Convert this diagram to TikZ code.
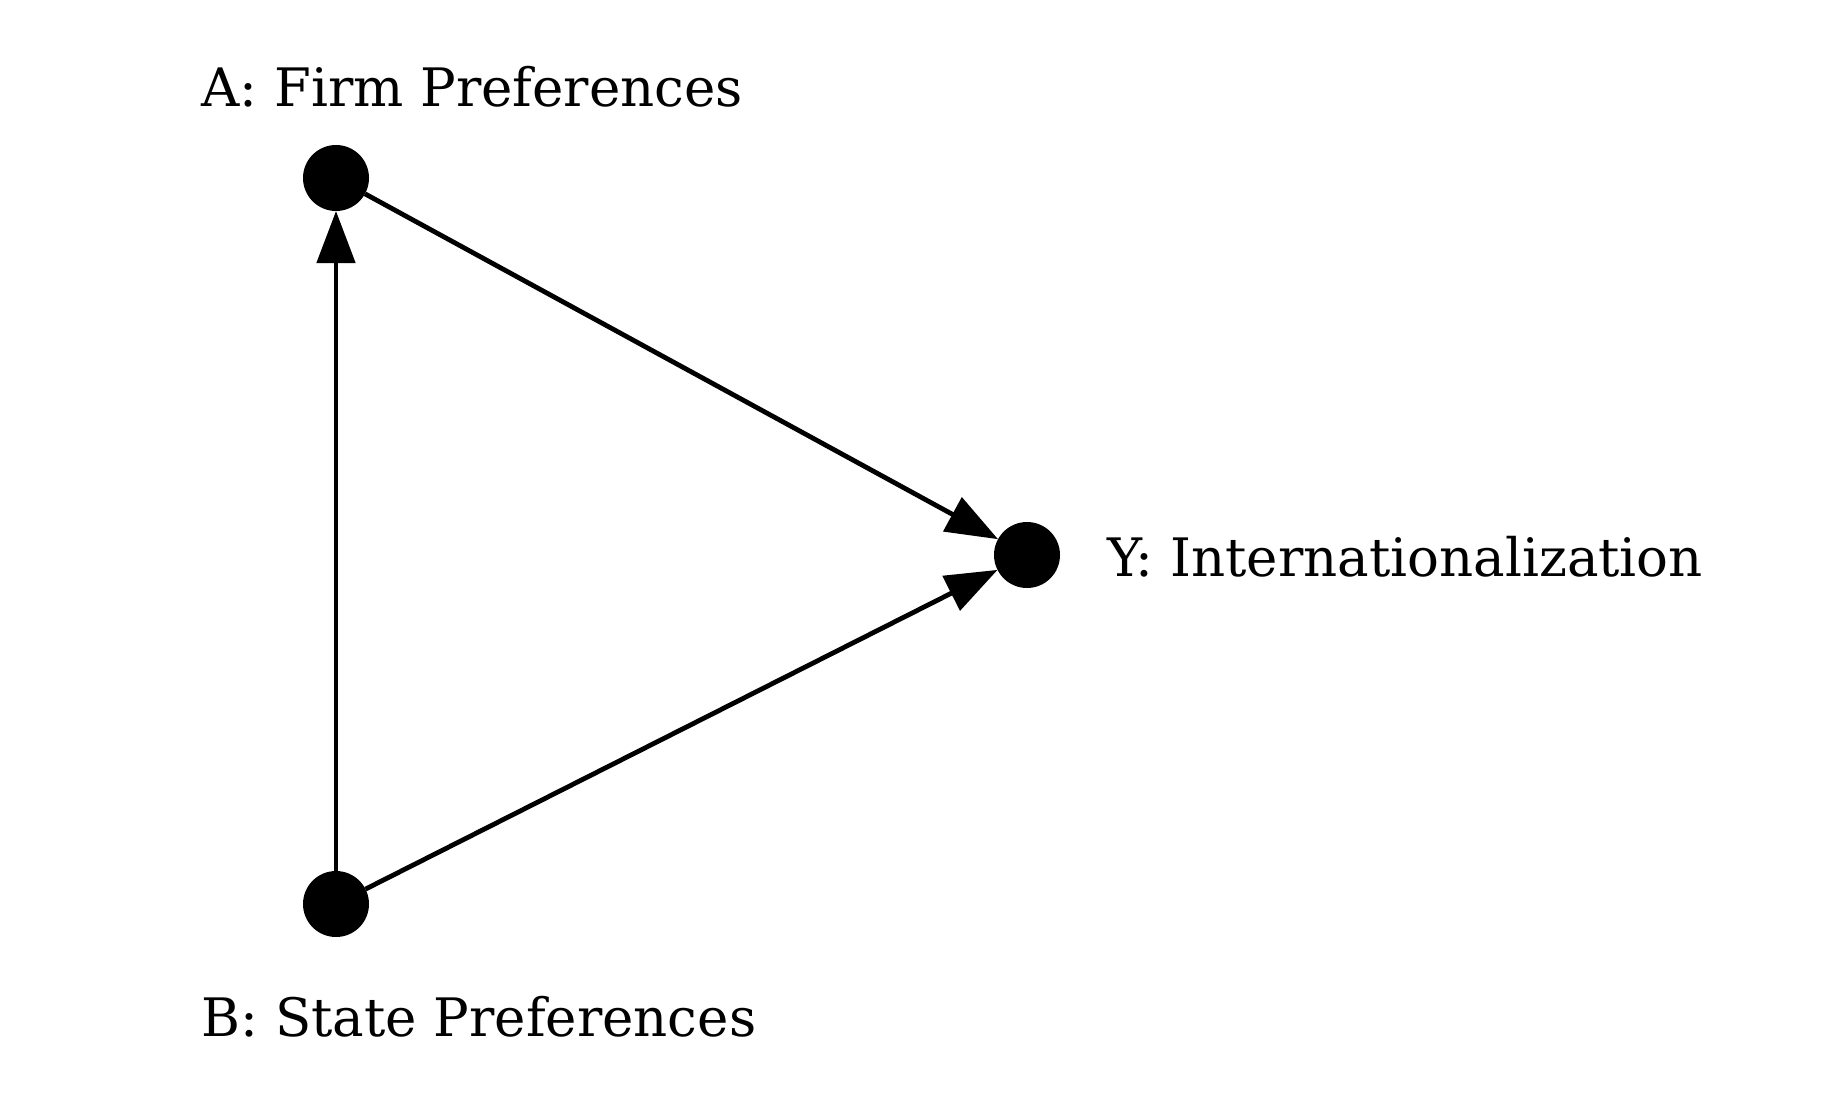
\documentclass[tikz,border=0pt]{standalone}
\usepackage{fontspec}
\setmainfont{DejaVu Serif}
\usetikzlibrary{arrows.meta}
\begin{document}
\begin{tikzpicture}[x=0.5pt,y=-0.5pt,
  dot/.style={circle,fill=black,minimum size=33pt,inner sep=0pt,outer sep=0pt},
  lbl/.style={anchor=base west,inner sep=0pt,font=\fontsize{26.5}{30}\selectfont},
  conn/.style={line width=2.4pt,-{Triangle[length=26pt,width=19pt]}}]
\useasboundingbox (0,0) rectangle (1836,1102);
\node[dot] (A) at (336,178) {};
\node[dot] (B) at (336,904) {};
\node[dot] (Y) at (1027,555) {};
\node[lbl] (la) at (201,106) {A: Firm Preferences};
\node[lbl] (lb) at (201,1036) {B: State Preferences};
\node[lbl] (ly) at (1107,576) {Y: Internationalization};
\draw[conn] (A) -- (Y);
\draw[conn] (B) -- (Y);
\draw[conn] (B) -- (A);
\end{tikzpicture}
\end{document}
